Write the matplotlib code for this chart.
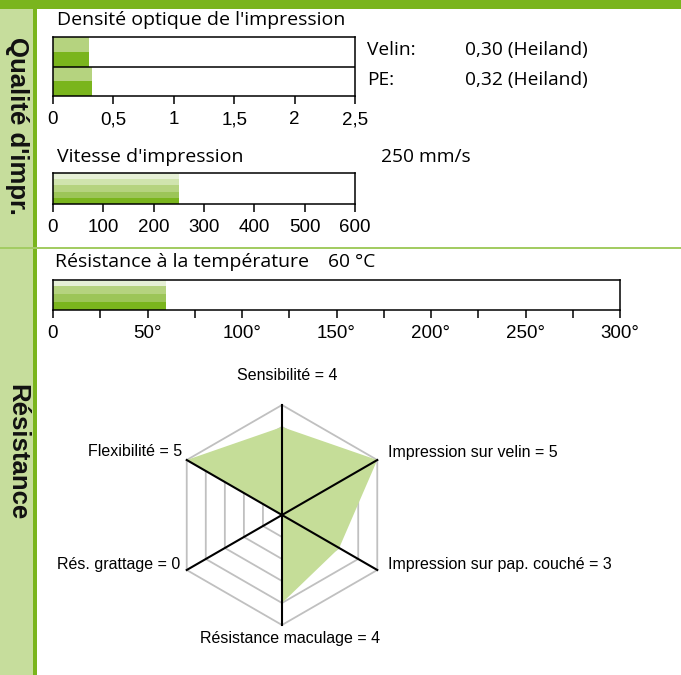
import matplotlib
matplotlib.use("Agg")
import matplotlib.pyplot as plt
import numpy as np

W, H = 681, 675

# data
density_labels = ["Velin:", "PE:"]
density_values = [0.30, 0.32]
density_texts = ["0,30 (Heiland)", "0,32 (Heiland)"]
density_ticks = [0, 0.5, 1, 1.5, 2, 2.5]
density_ticklabels = ["0", "0,5", "1", "1,5", "2", "2,5"]

speed_value = 250
speed_ticks = [0, 100, 200, 300, 400, 500, 600]

temp_value = 60
temp_ticks = [0, 50, 100, 150, 200, 250, 300]
temp_ticklabels = ["0", "50°", "100°", "150°", "200°", "250°", "300°"]

radar_labels = ["Sensibilité", "Impression sur velin", "Impression sur pap. couché",
                "Résistance maculage", "Rés. grattage", "Flexibilité"]
radar_values = [4, 5, 3, 4, 0, 5]
radar_max = 5

# colours
dark = "#7ab51d"
greens = ["#e6f0d6", "#d0e4ae", "#b5d37f", "#9cc558", "#7ab51d"]
side_col = "#c6dd9c"

title_font = "Open Sans"
num_font = "Liberation Sans"


def rect(x, y, w, h):
    return [x / W, 1 - (y + h) / H, w / W, h / H]


def fx(x):
    return x / W


def fy(y):
    return 1 - y / H


fig = plt.figure(figsize=(W / 100, H / 100), dpi=100)

# background frame
bg = fig.add_axes([0, 0, 1, 1])
bg.set_xlim(0, W)
bg.set_ylim(H, 0)
bg.axis("off")
bg.add_patch(plt.Rectangle((0, 9), 33, H - 9, color=side_col, lw=0))
bg.add_patch(plt.Rectangle((33, 9), 4, H - 9, color=dark, lw=0))
bg.add_patch(plt.Rectangle((0, 0), W, 9, color=dark, lw=0))
bg.add_patch(plt.Rectangle((0, 246.5), W, 2, color="#a3cc63", lw=0))
bg.text(17, 126, "Qualité d'impr.", rotation=270, ha="center", va="center",
        fontsize=18.5, fontweight="bold", family=num_font, color="#111111")
bg.text(17, 452, "Résistance", rotation=270, ha="center", va="center",
        fontsize=18.5, fontweight="bold", family=num_font, color="#111111")


def style_axis(ax):
    for s in ax.spines.values():
        s.set_linewidth(1.1)
        s.set_color("black")
    ax.tick_params(axis="x", direction="out", length=6, width=1.1, pad=5,
                   labelsize=13.5, colors="black")
    ax.set_yticks([])
    for lab in ax.get_xticklabels():
        lab.set_family(num_font)


# densité optique
ax1 = fig.add_axes(rect(53, 37, 302, 59))
ax1.set_xlim(0, 2.5)
ax1.set_ylim(0, 2)
for i, v in enumerate(density_values):
    base = 1 - i
    ax1.barh(base + 0.5, v, height=0.5, align="edge", color=greens[2], lw=0)
    ax1.barh(base, v, height=0.5, align="edge", color=dark, lw=0)
ax1.axhline(1, color="black", lw=1.1)
ax1.set_xticks(density_ticks)
ax1.set_xticklabels(density_ticklabels)
style_axis(ax1)
fig.text(fx(57), fy(20), "Densité optique de l'impression", family=title_font,
         fontsize=14, va="center", ha="left")
for i, (lab, txt) in enumerate(zip(density_labels, density_texts)):
    fig.text(fx(367), fy(50 + 30 * i), lab, family=title_font, fontsize=13.8,
             va="center", ha="left")
    fig.text(fx(465), fy(50 + 30 * i), txt, family=title_font, fontsize=13.8,
             va="center", ha="left")

# vitesse
ax2 = fig.add_axes(rect(53, 173, 302, 31))
ax2.set_xlim(0, 600)
ax2.set_ylim(0, 5)
for k, c in enumerate(greens[::-1]):
    ax2.barh(k, speed_value, height=1, align="edge", color=c, lw=0)
ax2.set_xticks(speed_ticks)
style_axis(ax2)
fig.text(fx(57), fy(157), "Vitesse d'impression", family=title_font,
         fontsize=14, va="center", ha="left")
fig.text(fx(381), fy(157), f"{speed_value} mm/s", family=title_font,
         fontsize=13.8, va="center", ha="left")

# température
ax3 = fig.add_axes(rect(53, 279.5, 567, 30))
ax3.set_xlim(0, 300)
ax3.set_ylim(0, 30)
temp_bands = [(0, 8, greens[4]), (8, 7.5, greens[3]), (15.5, 8, greens[2]), (23.5, 6.5, greens[0])]
for b0, bh, c in temp_bands:
    ax3.barh(b0, temp_value, height=bh, align="edge", color=c, lw=0)
ax3.set_xticks(temp_ticks)
ax3.set_xticklabels(temp_ticklabels)
ax3.set_xticks(np.arange(25, 300, 50), minor=True)
ax3.tick_params(axis="x", which="minor", direction="out", length=6, width=1.1)
style_axis(ax3)
fig.text(fx(55), fy(262), "Résistance à la température", family=title_font,
         fontsize=14, va="center", ha="left")
fig.text(fx(328), fy(262), f"{temp_value} °C", family=title_font,
         fontsize=13.8, va="center", ha="left")

# radar
R = 110.0
cx, cy = 282, 515
ax4 = fig.add_axes(rect(cx - 120, cy - 120, 240, 240))
lim = 120 / R * radar_max
ax4.set_xlim(-lim, lim)
ax4.set_ylim(-lim, lim)
ax4.axis("off")
n = len(radar_labels)
ang = np.arange(n) * 2 * np.pi / n
for lvl in range(1, radar_max + 1):
    xs = lvl * np.sin(np.r_[ang, ang[0]])
    ys = lvl * np.cos(np.r_[ang, ang[0]])
    ax4.plot(xs, ys, color="#c0c0c0", lw=1.3, zorder=1)
vals = np.array(radar_values, dtype=float)
ax4.fill(vals * np.sin(ang), vals * np.cos(ang), color="#c5dd98", lw=0, zorder=2)
for a in ang[:3]:
    ax4.plot([radar_max * np.sin(a), -radar_max * np.sin(a)],
             [radar_max * np.cos(a), -radar_max * np.cos(a)], color="black", lw=1.5, zorder=3)

label_pos = [(287, 375, "center"), (388, 452, "left"), (388, 565, "left"),
             (290, 638, "center"), (180, 565, "right"), (182, 452, "right")]
for (lx, ly, ha), lab, v in zip(label_pos, radar_labels, radar_values):
    fig.text(fx(lx), fy(ly), f"{lab} = {v}", family=num_font, fontsize=11.5,
             ha=ha, va="center")

fig.savefig("out.png", dpi=100)
